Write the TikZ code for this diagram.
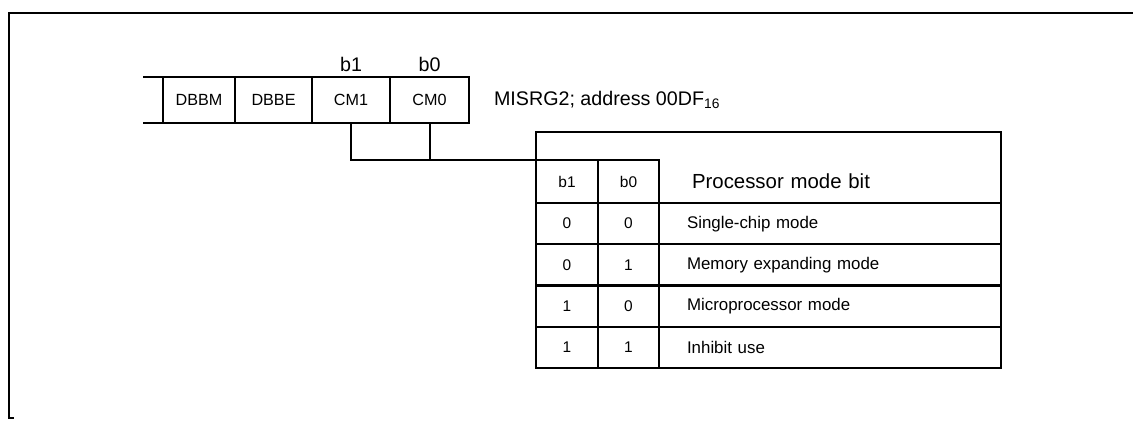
\documentclass[tikz,border=0pt]{standalone}
\usepackage{fontspec}
\setmainfont{Liberation Sans}
\usetikzlibrary{calc,positioning}
\tikzset{
    reg diagram/.style = {x=0.025cm, y=-0.025cm},
    line/.style        = {line width=1.5pt},
    frame/.style       = {line width=2pt},
    cell/.style        = {draw, line width=1.5pt, outer sep=0pt, inner sep=0pt,
                          minimum height=1.15cm,
                          font=\fontsize{11.5}{13}\selectfont},
    bitlbl/.style      = {font=\fontsize{14}{16}\selectfont},
    regname/.style     = {font=\fontsize{14}{16}\selectfont},
    tcell/.style       = {draw, line width=1.5pt, outer sep=0pt, inner sep=0pt,
                          minimum height=1.03125cm,
                          font=\fontsize{11}{13}\selectfont},
    hcell/.style       = {tcell, minimum height=1.075cm},
    desc/.style        = {tcell, text width=7.15cm, inner xsep=0.7cm,
                          align=left, font=\fontsize{12}{14}\selectfont},
    hdesc/.style       = {desc, draw=none, minimum height=1.075cm,
                          text width=6.9cm, inner xsep=0.825cm,
                          font=\fontsize{14.5}{17}\selectfont}
}
\def\bcolwidth{1.55cm}
\def\acolwidth{1.525cm}

\begin{document}
\begin{tikzpicture}[reg diagram]
\useasboundingbox (0,0) rectangle (1133,421);

% Frame round the figure, open on the right.
\draw[frame] (1133,13) -- (9,13) -- (9,418) -- (14,418);

% Register MISRG2 with its bit names.
\node[cell, minimum width=1.8cm] (dbbm) at (199,100) {DBBM};
\node[cell, minimum width=1.925cm, right=0pt of dbbm] (dbbe) {DBBE};
\node[cell, minimum width=1.95cm, right=0pt of dbbe] (cm1) {CM1};
\node[cell, minimum width=1.975cm, right=0pt of cm1] (cm0) {CM0};
\draw[line] (dbbm.north west) -- ++(-20,0);
\draw[line] (dbbm.south west) -- ++(-20,0);
\node[bitlbl, above=0pt of cm1] (b1top) {b1};
\node[bitlbl, above=0pt of cm0] (b0top) {b0};
\node[regname, right=0.5cm of cm0] (reg)
    {MISRG2; address 00DF\textsubscript{16}};

% Header of the mode table.
\node[hcell, minimum width=\bcolwidth, anchor=north west]
    (hb1) at (536,160) {b1};
\node[hcell, minimum width=\acolwidth, right=0pt of hb1] (hb0) {b0};
\node[hdesc, right=0pt of hb0] (hmode) {Processor mode bit};

% One row for each bit setting.
\node[tcell, minimum width=\bcolwidth, below=0pt of hb1] (m1b1) {0};
\node[tcell, minimum width=\acolwidth, right=0pt of m1b1] (m1b0) {0};
\node[desc, right=0pt of m1b0] (m1) {Single-chip mode};
\node[tcell, minimum width=\bcolwidth, below=0pt of m1b1] (m2b1) {0};
\node[tcell, minimum width=\acolwidth, right=0pt of m2b1] (m2b0) {1};
\node[desc, right=0pt of m2b0] (m2) {Memory expanding mode};
\node[tcell, minimum width=\bcolwidth, below=0pt of m2b1] (m3b1) {1};
\node[tcell, minimum width=\acolwidth, right=0pt of m3b1] (m3b0) {0};
\node[desc, right=0pt of m3b0] (m3) {Microprocessor mode};
\node[tcell, minimum width=\bcolwidth, below=0pt of m3b1] (m4b1) {1};
\node[tcell, minimum width=\acolwidth, right=0pt of m4b1] (m4b0) {1};
\node[desc, right=0pt of m4b0] (m4) {Inhibit use};

% Outline of the whole table.
\draw[line] ($(hb1.north west)+(0,-28)$) rectangle (m4.south east);

% Bits CM1 and CM0 lead to the table.
\draw[line] (cm1.south) |- (hb1.north west);
\draw[line] (cm0.south) -- (cm0.south |- hb1.north);

\end{tikzpicture}
\end{document}
